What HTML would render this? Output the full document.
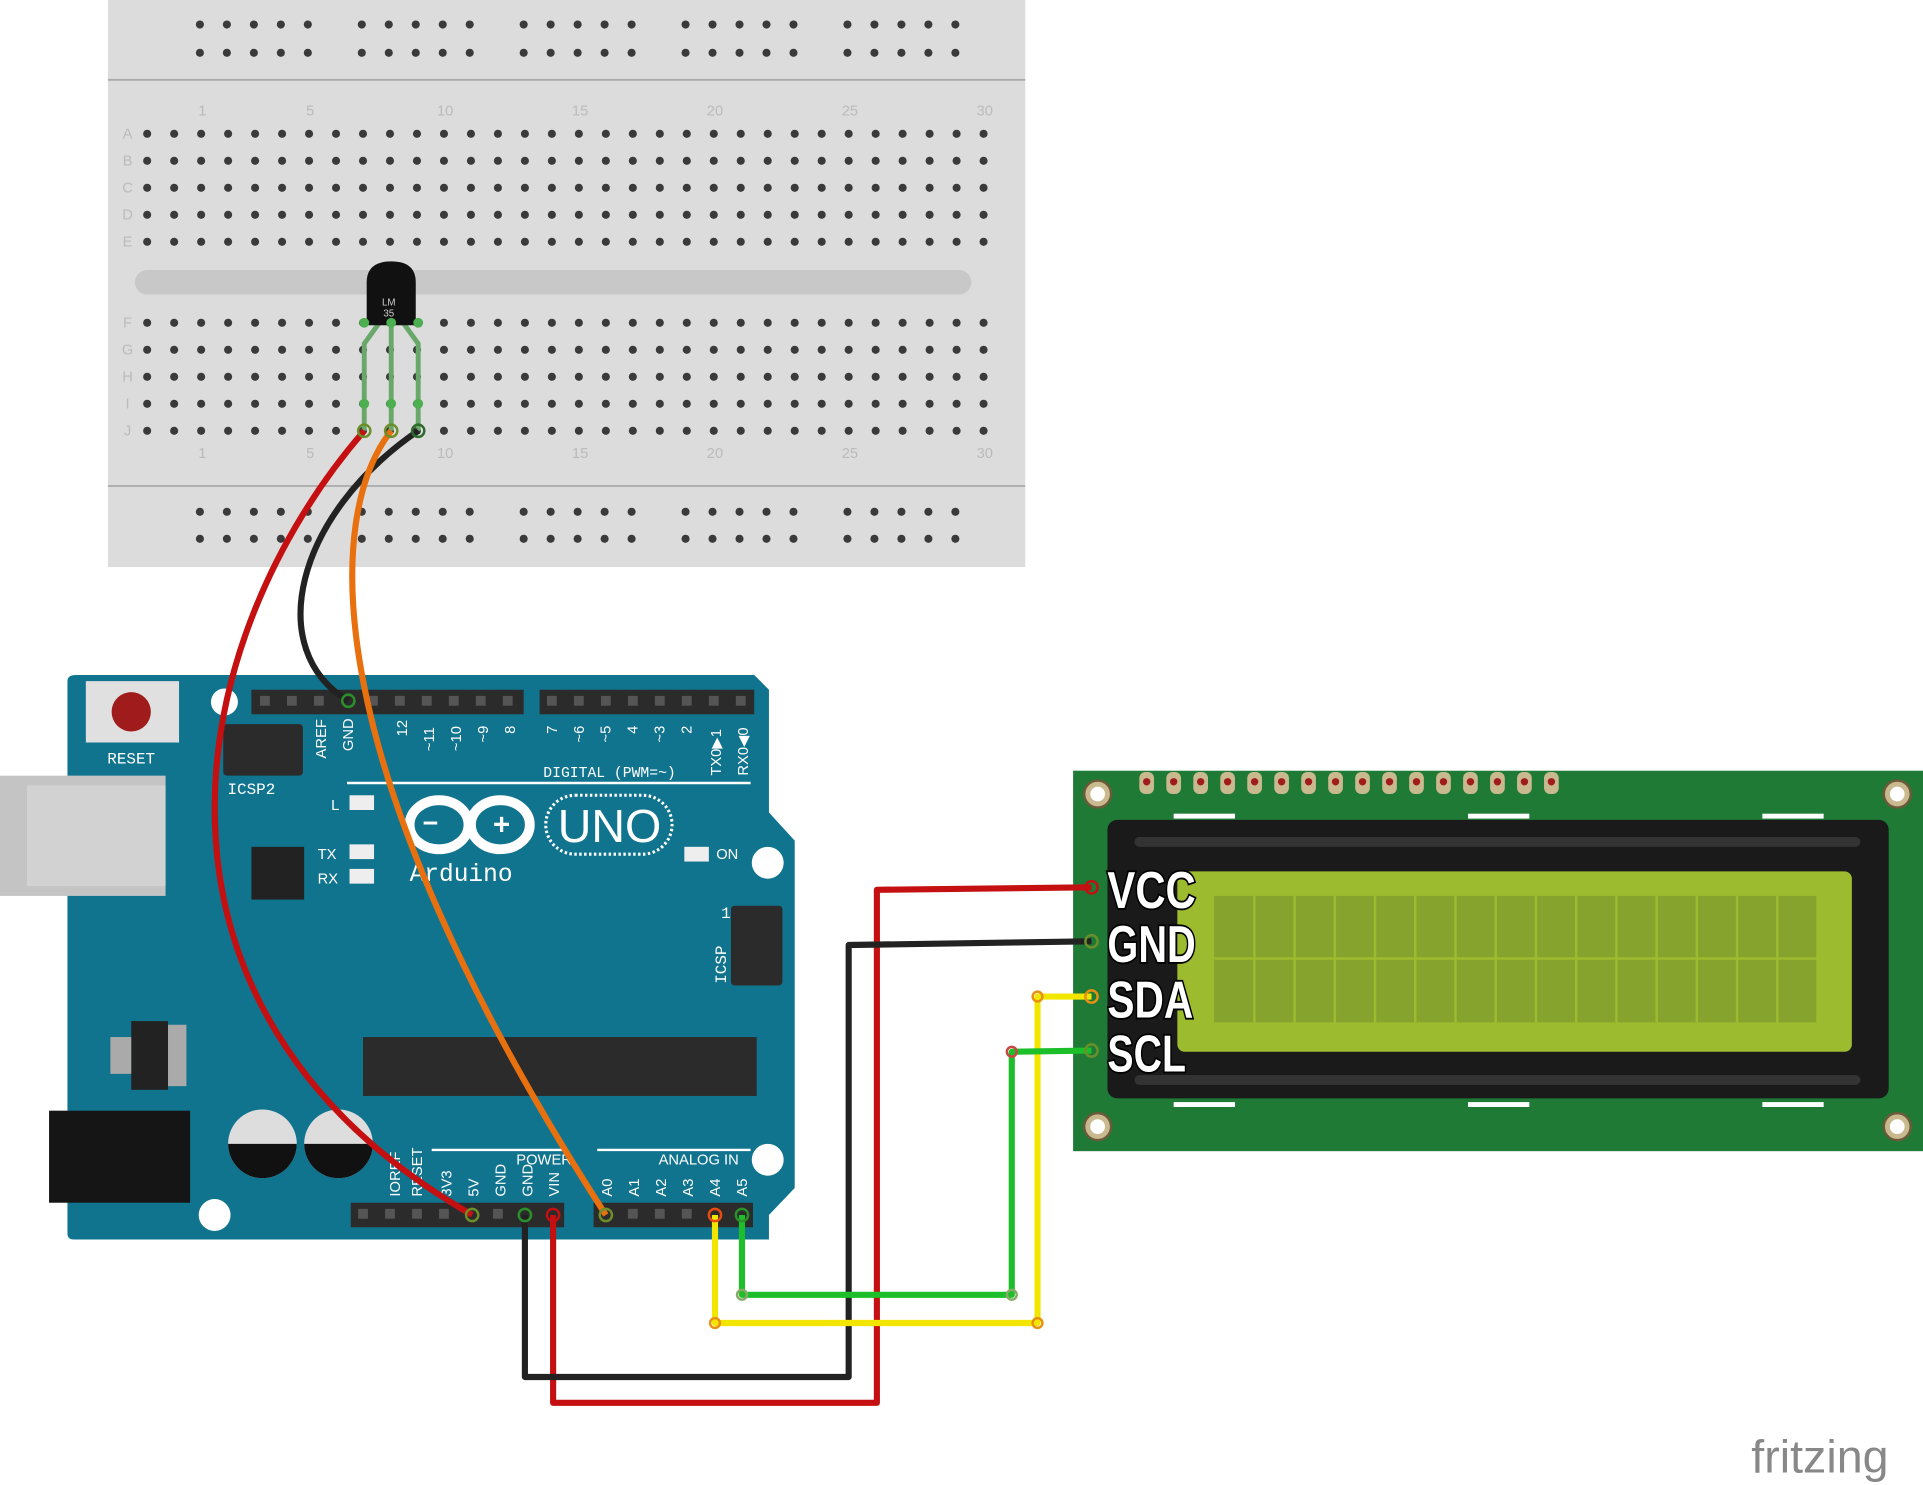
<!DOCTYPE html>
<html><head><meta charset="utf-8"><style>
html,body{margin:0;padding:0;background:#fff;}
svg{display:block;}
text{font-family:"Liberation Sans",sans-serif;}
.m{font-family:"Liberation Mono",monospace;}
</style></head><body>
<svg width="1923" height="1485" viewBox="0 0 1568 1210" preserveAspectRatio="none" xmlns="http://www.w3.org/2000/svg">
<!-- breadboard -->
<rect x="88" y="0" width="748" height="462" fill="#dcdcdc"/>
<line x1="88" y1="65" x2="836" y2="65" stroke="#aaa" stroke-width="1.5"/>
<line x1="88" y1="396" x2="836" y2="396" stroke="#aaa" stroke-width="1.5"/>
<rect x="110" y="220" width="682" height="20" rx="10" fill="#c8c8c8"/>
<g id="holes" fill="#3a3a3a"></g>
<g fill="#bbb" font-size="12">
<text x="104" y="113" text-anchor="middle">A</text><text x="104" y="135" text-anchor="middle">B</text><text x="104" y="157" text-anchor="middle">C</text><text x="104" y="179" text-anchor="middle">D</text><text x="104" y="201" text-anchor="middle">E</text>
<text x="104" y="267" text-anchor="middle">F</text><text x="104" y="289" text-anchor="middle">G</text><text x="104" y="311" text-anchor="middle">H</text><text x="104" y="333" text-anchor="middle">I</text><text x="104" y="355" text-anchor="middle">J</text>
<text x="165" y="94" text-anchor="middle">1</text><text x="253" y="94" text-anchor="middle">5</text><text x="363" y="94" text-anchor="middle">10</text><text x="473" y="94" text-anchor="middle">15</text><text x="583" y="94" text-anchor="middle">20</text><text x="693" y="94" text-anchor="middle">25</text><text x="803" y="94" text-anchor="middle">30</text>
<text x="165" y="373" text-anchor="middle">1</text><text x="253" y="373" text-anchor="middle">5</text><text x="363" y="373" text-anchor="middle">10</text><text x="473" y="373" text-anchor="middle">15</text><text x="583" y="373" text-anchor="middle">20</text><text x="693" y="373" text-anchor="middle">25</text><text x="803" y="373" text-anchor="middle">30</text>
</g>
<!-- arduino -->
<path d="M62,550 L615,550 L627,562 L627,662 L648,685 L648,968 L627,990 L627,1010 L60,1010 Q55,1010 55,1005 L55,555 Q55,550 62,550 Z" fill="#11748f"/>
<rect x="0" y="632" width="135" height="98" fill="#c4c4c4"/>
<rect x="22" y="640" width="113" height="82" fill="#d2d2d2"/>
<rect x="70" y="555" width="76" height="50" fill="#e0e0e0"/>
<circle cx="107" cy="580" r="16" fill="#a01c1c"/>
<text x="107" y="622" fill="#fff" font-size="13" text-anchor="middle" class="m">RESET</text>
<circle cx="183" cy="572" r="11" fill="#fff"/>
<circle cx="626" cy="703" r="13" fill="#fff"/>
<circle cx="626" cy="945" r="13" fill="#fff"/>
<circle cx="175" cy="990" r="13" fill="#fff"/>
<rect x="205" y="562" width="222" height="20" fill="#2b2b2b"/>
<rect x="440" y="562" width="175" height="20" fill="#2b2b2b"/>
<rect x="286" y="980" width="174" height="20" fill="#2b2b2b"/>
<rect x="484" y="980" width="130" height="20" fill="#2b2b2b"/>
<g fill="#555">
<rect x="212" y="567" width="8" height="8"/><rect x="234" y="567" width="8" height="8"/><rect x="256" y="567" width="8" height="8"/><rect x="300" y="567" width="8" height="8"/><rect x="322" y="567" width="8" height="8"/><rect x="344" y="567" width="8" height="8"/><rect x="366" y="567" width="8" height="8"/><rect x="388" y="567" width="8" height="8"/><rect x="410" y="567" width="8" height="8"/>
<rect x="446" y="567" width="8" height="8"/><rect x="468" y="567" width="8" height="8"/><rect x="490" y="567" width="8" height="8"/><rect x="512" y="567" width="8" height="8"/><rect x="534" y="567" width="8" height="8"/><rect x="556" y="567" width="8" height="8"/><rect x="578" y="567" width="8" height="8"/><rect x="600" y="567" width="8" height="8"/>
<rect x="292" y="985" width="8" height="8"/><rect x="314" y="985" width="8" height="8"/><rect x="336" y="985" width="8" height="8"/><rect x="358" y="985" width="8" height="8"/><rect x="402" y="985" width="8" height="8"/>
<rect x="512" y="985" width="8" height="8"/><rect x="534" y="985" width="8" height="8"/><rect x="556" y="985" width="8" height="8"/>
</g>
<rect x="182" y="590" width="65" height="42" fill="#2b2b2b" rx="3"/>
<text x="205" y="647" fill="#fff" font-size="13" text-anchor="middle" class="m">ICSP2</text>
<rect x="596" y="738" width="42" height="65" fill="#2b2b2b" rx="3"/>
<text x="592" y="786" fill="#fff" font-size="13" text-anchor="middle" class="m" transform="rotate(-90 592 786)">ICSP</text>
<text x="588" y="748" fill="#fff" font-size="13" class="m">1</text>
<line x1="283" y1="638" x2="612" y2="638" stroke="#fff" stroke-width="2"/>
<text x="443" y="633" fill="#fff" font-size="12" class="m">DIGITAL (PWM=~)</text>
<g fill="#fff" font-size="12" class="m">
<text transform="translate(266,618) rotate(-90)">AREF</text><text transform="translate(288,612) rotate(-90)">GND</text><text transform="translate(332,600) rotate(-90)">12</text><text transform="translate(354,612) rotate(-90)">~11</text><text transform="translate(376,612) rotate(-90)">~10</text><text transform="translate(398,605) rotate(-90)">~9</text><text transform="translate(420,598) rotate(-90)">8</text>
<text transform="translate(454,598) rotate(-90)">7</text><text transform="translate(476,605) rotate(-90)">~6</text><text transform="translate(498,605) rotate(-90)">~5</text><text transform="translate(520,598) rotate(-90)">4</text><text transform="translate(542,605) rotate(-90)">~3</text><text transform="translate(564,598) rotate(-90)">2</text><text transform="translate(588,632) rotate(-90)">TX0▶1</text><text transform="translate(610,632) rotate(-90)">RX0◀0</text>
<text transform="translate(326,975) rotate(-90)">IOREF</text><text transform="translate(344,975) rotate(-90)">RESET</text><text transform="translate(368,975) rotate(-90)">3V3</text><text transform="translate(390,975) rotate(-90)">5V</text><text transform="translate(412,975) rotate(-90)">GND</text><text transform="translate(434,975) rotate(-90)">GND</text><text transform="translate(456,975) rotate(-90)">VIN</text>
<text transform="translate(499,975) rotate(-90)">A0</text><text transform="translate(521,975) rotate(-90)">A1</text><text transform="translate(543,975) rotate(-90)">A2</text><text transform="translate(565,975) rotate(-90)">A3</text><text transform="translate(587,975) rotate(-90)">A4</text><text transform="translate(609,975) rotate(-90)">A5</text>
<text x="421" y="949">POWER</text><text x="537" y="949">ANALOG IN</text>
<text x="270" y="660">L</text><text x="259" y="700">TX</text><text x="259" y="720">RX</text><text x="584" y="700">ON</text>
</g>
<line x1="352" y1="937" x2="462" y2="937" stroke="#fff" stroke-width="2"/>
<line x1="487" y1="937" x2="612" y2="937" stroke="#fff" stroke-width="2"/>
<rect x="285" y="648" width="20" height="12" fill="#eee"/><rect x="285" y="688" width="20" height="12" fill="#eee"/><rect x="285" y="708" width="20" height="12" fill="#eee"/><rect x="558" y="690" width="20" height="12" fill="#eee"/>
<rect x="205" y="690" width="43" height="43" fill="#222"/>
<g fill="none" stroke="#fff" stroke-width="8"><ellipse cx="358" cy="672" rx="24" ry="20"/><ellipse cx="408" cy="672" rx="24" ry="20"/></g>
<text x="351" y="678" fill="#fff" font-size="22" font-weight="bold" text-anchor="middle">−</text>
<text x="409" y="680" fill="#fff" font-size="24" font-weight="bold" text-anchor="middle">+</text>
<rect x="445" y="648" width="103" height="48" rx="24" fill="none" stroke="#fff" stroke-width="2.5" stroke-dasharray="2 2"/>
<text x="497" y="686" fill="#fff" font-size="38" text-anchor="middle">UNO</text>
<text x="334" y="718" fill="#fff" font-size="20" class="m">Arduino</text>
<rect x="296" y="845" width="321" height="48" fill="#2b2b2b"/>
<rect x="107" y="832" width="30" height="56" fill="#222"/><rect x="90" y="845" width="17" height="30" fill="#aaa"/><rect x="137" y="835" width="15" height="50" fill="#aaa"/>
<rect x="40" y="905" width="115" height="75" fill="#151515"/>
<circle cx="214" cy="932" r="28" fill="#ddd"/><path d="M186,932 A28,28 0 0 0 242,932 Z" fill="#111"/>
<circle cx="276" cy="932" r="28" fill="#ddd"/><path d="M248,932 A28,28 0 0 0 304,932 Z" fill="#111"/>
<!-- LCD -->
<rect x="875" y="628" width="693" height="310" fill="#1f7a36"/>
<g fill="#c9b98e" stroke="#6b5a3a" stroke-width="2"><circle cx="895" cy="647" r="11"/><circle cx="1547" cy="647" r="11"/><circle cx="895" cy="918" r="11"/><circle cx="1547" cy="918" r="11"/></g>
<g fill="#fff"><circle cx="895" cy="647" r="6"/><circle cx="1547" cy="647" r="6"/><circle cx="895" cy="918" r="6"/><circle cx="1547" cy="918" r="6"/></g>
<g id="lcdpins"></g>
<rect x="957" y="663" width="50" height="4" fill="#fff"/><rect x="1197" y="663" width="50" height="4" fill="#fff"/><rect x="1437" y="663" width="50" height="4" fill="#fff"/>
<rect x="957" y="898" width="50" height="4" fill="#fff"/><rect x="1197" y="898" width="50" height="4" fill="#fff"/><rect x="1437" y="898" width="50" height="4" fill="#fff"/>
<rect x="903" y="668" width="637" height="227" rx="8" fill="#1a1a1a"/>
<rect x="925" y="682" width="592" height="8" rx="4" fill="#333"/>
<rect x="925" y="876" width="592" height="8" rx="4" fill="#333"/>
<rect x="960" y="710" width="550" height="147" rx="6" fill="#9dbb2f"/>
<rect x="990" y="730" width="492" height="103" fill="#86a32e"/>
<g id="cells" stroke="#9dbb2f" stroke-width="2"></g>
<g font-size="42" font-weight="bold" fill="#fff" stroke="#000" stroke-width="3" paint-order="stroke" font-family="'Liberation Sans Narrow','Liberation Sans',sans-serif">
<text x="903" y="740" textLength="72" lengthAdjust="spacingAndGlyphs">VCC</text>
<text x="903" y="784" textLength="72" lengthAdjust="spacingAndGlyphs">GND</text>
<text x="903" y="829" textLength="70" lengthAdjust="spacingAndGlyphs">SDA</text>
<text x="903" y="873" textLength="64" lengthAdjust="spacingAndGlyphs">SCL</text>
</g>
<!-- LM35 -->
<g fill="none" stroke-width="4" stroke="#6aa86a">
<path d="M310,262 L297,280 L297,351"/><path d="M319,262 L319,351"/><path d="M328,262 L341,280 L341,351"/>
</g>
<path d="M299,230 Q299,213 319,213 Q339,213 339,230 L339,265 L299,265 Z" fill="#111"/>
<text x="317" y="249" fill="#ccc" font-size="8" text-anchor="middle">LM</text>
<text x="317" y="258" fill="#ccc" font-size="8" text-anchor="middle">35</text>
<g fill="#4caf50"><circle cx="297" cy="263" r="4"/><circle cx="319" cy="263" r="4"/><circle cx="341" cy="263" r="4"/><circle cx="297" cy="329" r="4"/><circle cx="319" cy="329" r="4"/><circle cx="341" cy="329" r="4"/></g>
<!-- wires -->
<g fill="none" stroke-width="5" stroke-linejoin="round">
<path d="M297,351 C150,520 90,820 385,990" stroke="#c41010"/>
<path d="M341,351 C240,420 215,530 284,571" stroke="#222"/>
<path d="M319,351 C265,420 255,620 494,990" stroke="#e8700f"/>
<path d="M890,723 L715,725 L715,1143 L451,1143 L451,990" stroke="#c41010"/>
<path d="M890,767 L692,770 L692,1122 L428,1122 L428,990" stroke="#222"/>
<path d="M890,812 L846,812 L846,1078 L583,1078 L583,990" stroke="#f2e600"/>
<path d="M890,856 L825,857 L825,1055 L605,1055 L605,990" stroke="#1cbf2a"/>
</g>
<g stroke-width="2" fill="none">
<circle cx="297" cy="351" r="5" stroke="#6b8f2a"/><circle cx="319" cy="351" r="5" stroke="#6b8f2a"/><circle cx="341" cy="351" r="5" stroke="#2b6b2b"/>
<circle cx="385" cy="990" r="5" stroke="#6b8f2a"/><circle cx="284" cy="571" r="5" stroke="#2b8f2b"/><circle cx="494" cy="990" r="5" stroke="#6b8f2a"/>
<circle cx="451" cy="990" r="5" stroke="#c41010"/><circle cx="428" cy="990" r="5" stroke="#2b8f2b"/><circle cx="583" cy="990" r="5" stroke="#e84a10"/><circle cx="605" cy="990" r="5" stroke="#2b8f2b"/>
<circle cx="890" cy="723" r="5" stroke="#c41010"/><circle cx="890" cy="767" r="5" stroke="#6b8f2a"/><circle cx="890" cy="812" r="5" stroke="#e8900f"/><circle cx="890" cy="856" r="5" stroke="#6b8f2a"/>
<circle cx="846" cy="812" r="4" stroke="#e8900f"/><circle cx="846" cy="1078" r="4" stroke="#e8900f"/><circle cx="583" cy="1078" r="4" stroke="#e8900f"/>
<circle cx="825" cy="857" r="4" stroke="#c44"/><circle cx="825" cy="1055" r="4" stroke="#8a6"/><circle cx="605" cy="1055" r="4" stroke="#8a6"/>
</g>
<text x="1428" y="1200" fill="#888" font-size="38" font-family="'DejaVu Sans',sans-serif">fritzing</text>
</svg>
<script>
(function(){
var ns="http://www.w3.org/2000/svg",g=document.getElementById("holes");
function c(x,y){var e=document.createElementNS(ns,"circle");e.setAttribute("cx",x);e.setAttribute("cy",y);e.setAttribute("r",3.3);g.appendChild(e);}
var rails=[163,295,427,559,691];
[20,43,417,439].forEach(function(y){rails.forEach(function(s){for(var i=0;i<5;i++)c(s+i*22,y);});});
[109,131,153,175,197,263,285,307,329,351].forEach(function(y){for(var i=0;i<32;i++)c(120+i*22,y);});
var p=document.getElementById("lcdpins");
for(var i=0;i<16;i++){var x=935+i*22;var r=document.createElementNS(ns,"rect");r.setAttribute("x",x-6);r.setAttribute("y",629);r.setAttribute("width",12);r.setAttribute("height",18);r.setAttribute("rx",5);r.setAttribute("fill","#c9b98e");p.appendChild(r);
var d=document.createElementNS(ns,"circle");d.setAttribute("cx",x);d.setAttribute("cy",637);d.setAttribute("r",3);d.setAttribute("fill","#a01c1c");p.appendChild(d);}
var cl=document.getElementById("cells");
for(var k=1;k<16;k++){var l=document.createElementNS(ns,"line");var xx=990+k*32.8;l.setAttribute("x1",xx);l.setAttribute("x2",xx);l.setAttribute("y1",730);l.setAttribute("y2",833);cl.appendChild(l);}
var h=document.createElementNS(ns,"line");h.setAttribute("x1",990);h.setAttribute("x2",1482);h.setAttribute("y1",781);h.setAttribute("y2",781);cl.appendChild(h);
})();
</script>
</body></html>
